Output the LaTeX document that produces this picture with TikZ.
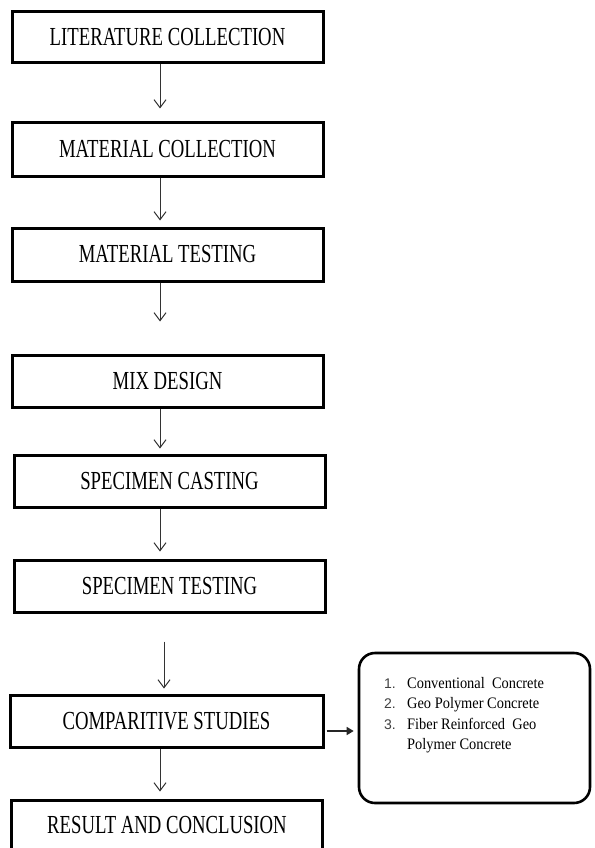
\documentclass[tikz,border=0pt]{standalone}
\usepackage{fontspec}
\usepackage{graphicx}
\setmainfont{Liberation Serif}
\newfontfamily\numfont{Liberation Sans}
\usetikzlibrary{arrows.meta}
\newcommand{\bxt}[1]{\scalebox{0.72}[1]{#1}}
\newcommand{\lst}[1]{\scalebox{0.9}[1]{#1}}
\begin{document}
\begin{tikzpicture}[x=1pt,y=-1pt,
  box/.style={draw=black, line width=3pt, minimum width=311pt, minimum height=52pt,
    inner sep=0pt, font=\fontsize{26}{30}\selectfont, text=black},
  flow/.style={draw=black!80, line width=1pt, -{Straight Barb[length=8pt,width=12pt,line width=1pt]}},
  sideflow/.style={draw=black!85, line width=1.4pt, -{Triangle[length=7pt,width=8pt]}},
  notebox/.style={draw=black, line width=2.6pt, rounded corners=16pt, minimum width=231pt,
    minimum height=150pt, inner sep=0pt},
  listtext/.style={inner sep=0pt, font=\fontsize{16}{20.5}\selectfont, text=black}
]
\useasboundingbox (0,0) rectangle (594,848);
\fill[white] (0,0) rectangle (594,848);

\node[box, minimum height=51pt] (b1) at (167.5,37.5) {\bxt{LITERATURE COLLECTION}};
\node[box, minimum height=53pt] (b2) at (167.5,149.5) {\bxt{MATERIAL COLLECTION}};
\node[box, minimum height=53pt] (b3) at (167.5,254.5) {\bxt{MATERIAL TESTING}};
\node[box] (b4) at (167.5,381) {\bxt{MIX DESIGN}};
\node[box] (b5) at (169.5,481) {\bxt{SPECIMEN CASTING}};
\node[box] (b6) at (169.5,586) {\bxt{SPECIMEN TESTING}};
\node[box, minimum width=313pt] (b7) at (166.5,721) {\bxt{COMPARITIVE STUDIES}};
\node[box, minimum height=50pt] (b8) at (167,825) {\bxt{RESULT AND CONCLUSION}};

\node[notebox] (note) at (474.5,728) {};
\node[listtext, anchor=base west] (list) at (384,688) {%
  \begin{tabular}[t]{@{}l@{}l@{}}
  \makebox[23pt][l]{\numfont\fontsize{14}{20.5}\selectfont\color{black!75}1.} & \lst{Conventional\ \ Concrete}\\
  \makebox[23pt][l]{\numfont\fontsize{14}{20.5}\selectfont\color{black!75}2.} & \lst{Geo\ Polymer Concrete}\\
  \makebox[23pt][l]{\numfont\fontsize{14}{20.5}\selectfont\color{black!75}3.} & \lst{Fiber Reinforced\ \ Geo}\\
  & \lst{Polymer Concrete}
  \end{tabular}};

\coordinate (ax) at (160,0);
\coordinate (ay) at (164,0);

\draw[flow, shorten >=13pt] (b1.south -| ax) -- (b2.north -| ax);
\draw[flow, shorten >=6pt] (b2.south -| ax) -- (b3.north -| ax);
\draw[flow, shorten >=32pt] (b3.south -| ax) -- (b4.north -| ax);
\draw[flow, shorten >=5pt] (b4.south -| ax) -- (b5.north -| ax);
\draw[flow, shorten >=7pt] (b5.south -| ax) -- (b6.north -| ax);
\draw[flow, shorten <=28pt, shorten >=5pt] (b6.south -| ay) -- (b7.north -| ay);
\draw[flow, shorten >=7pt] (b7.south -| ax) -- (b8.north -| ax);

\draw[sideflow, shorten <=2pt, shorten >=4pt] ([yshift=-10pt]b7.east) -- ([yshift=-10pt]b7.east -| note.west);
\end{tikzpicture}
\end{document}
